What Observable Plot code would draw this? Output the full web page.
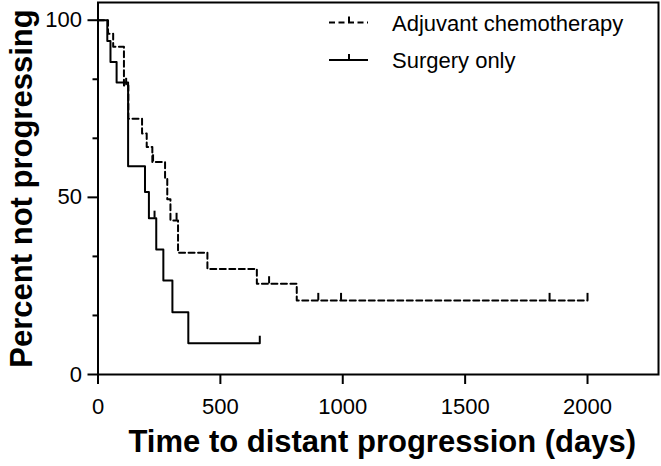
<!DOCTYPE html>
<html><head><meta charset="utf-8">
<script src="https://cdn.jsdelivr.net/npm/d3@7"></script>
<script src="https://cdn.jsdelivr.net/npm/@observablehq/plot@0.6"></script>
<style>
html,body{margin:0;padding:0;background:#fff;}
#chart{width:661px;height:466px;}
</style></head><body><div id="chart"></div>
<script>
// ---- data ----
const seriesNames = ["Adjuvant chemotherapy", "Surgery only"];

const surgeryDays = [0, 38, 51, 76, 123, 192, 208, 238, 267, 304, 369, 661];
const surgerySurv = [100, 94.1, 88.2, 82.4, 58.8, 51.5, 44.1, 35.3, 26.5, 17.6, 8.8, 8.8];
const surgeryCensorDays = [231, 661];
const surgeryCensorSurv = [44.1, 8.8];

const chemoDays = [0, 41, 62, 106, 124, 180, 199, 222, 274, 283, 296, 327, 447, 649, 812, 2000];
const chemoSurv = [100, 96.2, 92.5, 81.6, 72.2, 68, 64.2, 60, 55.5, 49.5, 43.5, 34.4, 29.8, 25.6, 20.9, 20.9];
const chemoCensorDays = [115, 225, 321, 699, 900, 993, 1845, 2000];
const chemoCensorSurv = [81.6, 60, 43.5, 25.6, 20.9, 20.9, 20.9, 20.9];

const xTicks = [0, 500, 1000, 1500, 2000];
const yTicks = [0, 50, 100];
const yMinorTicks = [100/6, 100/3, 200/3, 500/6];
const xTitle = "Time to distant progression (days)";
const yTitle = "Percent not progressing";

// ---- build tables ----
const surgeryRows = surgeryDays.map((t, i) => ({t, s: surgerySurv[i]}));
const chemoRows = chemoDays.map((t, i) => ({t, s: chemoSurv[i]}));
const censors = [
  ...surgeryCensorDays.map((t, i) => ({t, s: surgeryCensorSurv[i]})),
  ...chemoCensorDays.map((t, i) => ({t, s: chemoCensorSurv[i]}))
];

const font = "'Liberation Sans', Arial, Helvetica, sans-serif";
const dash = "6,3.5";

const plot = Plot.plot({
  width: 661, height: 466,
  marginLeft: 97.5, marginRight: 3, marginTop: 2, marginBottom: 92,
  style: {fontFamily: font, background: "white", color: "black"},
  x: {domain: [0, 2290]},
  y: {domain: [0, 105]},
  marks: [
    Plot.frame({stroke: "black", strokeWidth: 2}),
    Plot.axisX({ticks: xTicks, tickSize: 10, tickPadding: 14, fontSize: 22, strokeWidth: 2, label: null, tickFormat: d => String(d)}),
    Plot.axisY({ticks: yTicks, tickSize: 10, tickPadding: 6, fontSize: 22, strokeWidth: 2, label: null}),
    Plot.axisY({ticks: yMinorTicks, tickSize: 5, strokeWidth: 2, text: null, label: null}),
    Plot.line(surgeryRows, {x: "t", y: "s", curve: "step-after", stroke: "black", strokeWidth: 2}),
    Plot.line(chemoRows, {x: "t", y: "s", curve: "step-after", stroke: "black", strokeWidth: 2, strokeDasharray: dash}),
    Plot.ruleX(censors, {x: "t", y1: "s", y2: d => d.s + 2, stroke: "black", strokeWidth: 2}),
    Plot.text([xTitle], {text: d => d, frameAnchor: "bottom", lineAnchor: "middle", textAnchor: "middle", dy: 68, dx: 4, fontSize: 31, fontWeight: "bold"}),
    Plot.text([yTitle], {text: d => d, frameAnchor: "left", lineAnchor: "middle", textAnchor: "middle", dx: -76, rotate: -90, fontSize: 31, fontWeight: "bold"})
  ]
});

// ---- legend (inside the frame, top right) ----
const svg = d3.select(plot);
const lg = svg.append("g").attr("font-family", font).attr("font-size", 22).attr("text-anchor", "start");
seriesNames.forEach((name, i) => {
  const y = i === 0 ? 22.5 : 60;
  lg.append("line").attr("x1", 329).attr("x2", 368).attr("y1", y).attr("y2", y)
    .attr("stroke", "black").attr("stroke-width", 2)
    .attr("stroke-dasharray", i === 0 ? dash : null);
  lg.append("line").attr("x1", 349).attr("x2", 349).attr("y1", y).attr("y2", y - 6)
    .attr("stroke", "black").attr("stroke-width", 2);
  lg.append("text").attr("x", 392).attr("y", y + 8).attr("fill", "black").attr("text-anchor", "start").text(name);
});

document.getElementById("chart").appendChild(plot);
</script>
</body></html>
